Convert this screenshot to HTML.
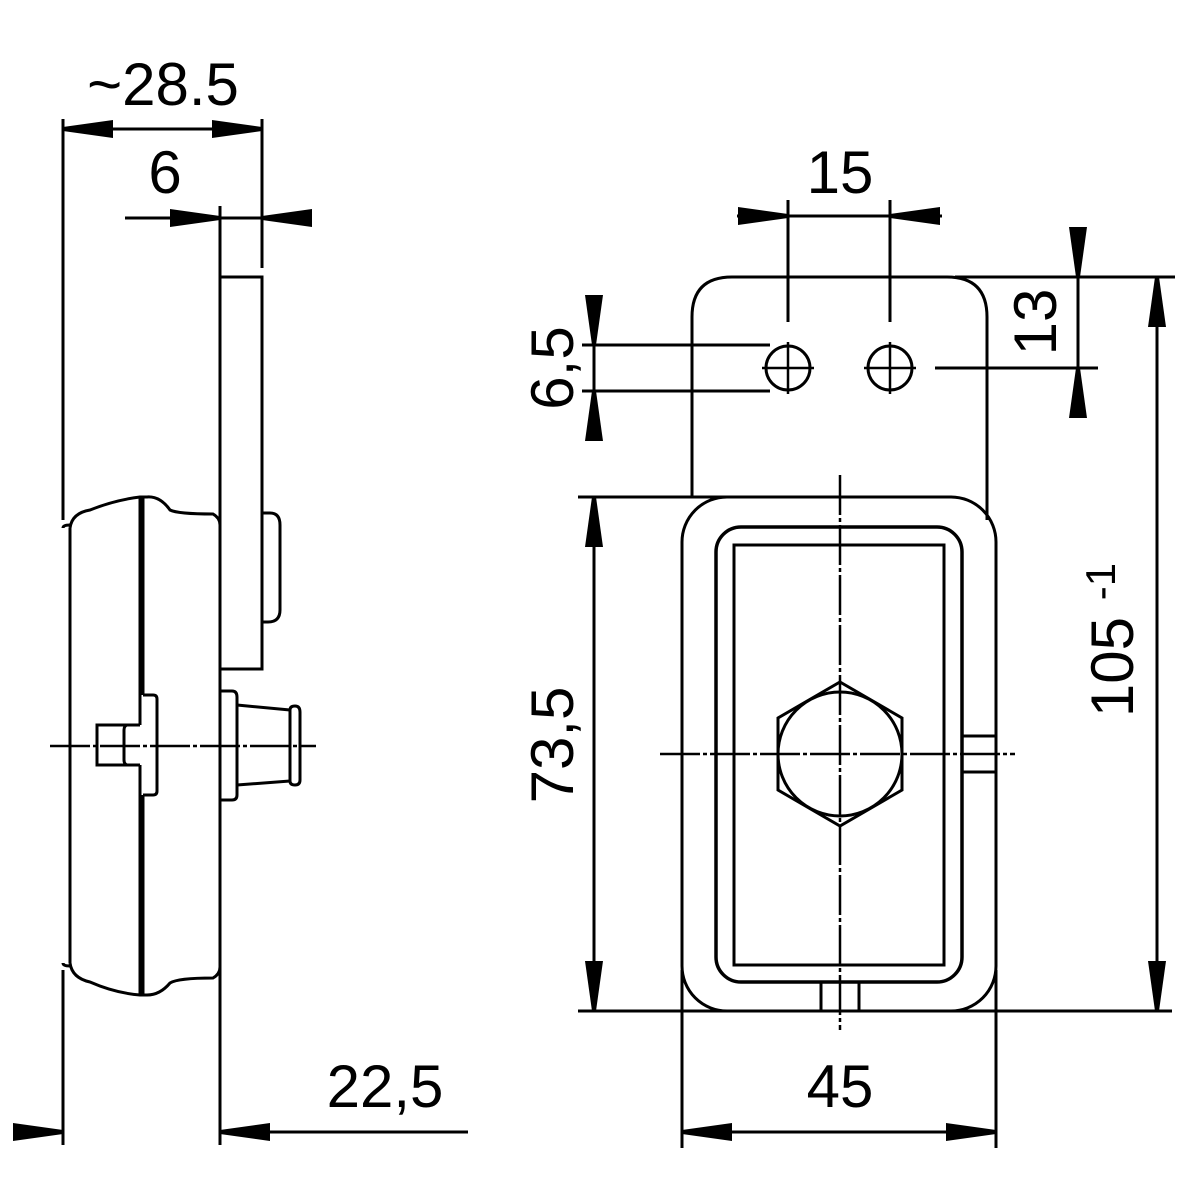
<!DOCTYPE html>
<html><head><meta charset="utf-8"><style>html,body{margin:0;padding:0;background:#fff}svg{display:block}</style></head>
<body>
<svg width="1200" height="1200" viewBox="0 0 1200 1200" xmlns="http://www.w3.org/2000/svg">
<defs>
<marker id="a" viewBox="0 0 50 18" refX="50" refY="9" markerWidth="50" markerHeight="18" markerUnits="userSpaceOnUse" orient="auto"><path d="M0,0 L50,7 L50,11 L0,18Z" fill="#000"/></marker>
</defs>
<g fill="none" stroke="#000" stroke-width="3">
<!-- LEFT VIEW -->
<line x1="63" y1="119" x2="63" y2="520"/>
<line x1="63" y1="970" x2="63" y2="1145"/>
<line x1="220" y1="206" x2="220" y2="1145"/>
<line x1="262" y1="119" x2="262" y2="268"/>
<path d="M70,528 L70,963"/>
<path d="M63,528 Q63,525 70,525"/>
<path d="M63,963 Q63,966 70,966"/>
<path d="M70,528 Q72,513 90,510 Q115,500 140,497 L147,497 Q160,496 170,510 Q178,514 213,514 Q220,518 220,525"/>
<path d="M70,963 Q72,978 90,982 Q115,993 140,995 L147,995 Q160,995 170,983 Q178,978 213,978 Q220,974 220,967"/>
<line x1="140" y1="497" x2="140" y2="725"/>
<line x1="143" y1="497" x2="143" y2="695"/>
<line x1="140" y1="765" x2="140" y2="995"/>
<line x1="143" y1="795" x2="143" y2="995"/>
<path d="M143,695 L153,695 Q157,695 157,699 L157,791 Q157,795 153,795 L143,795"/>
<path d="M140,725 L97,725 L97,765 L140,765"/>
<path d="M127,725 Q124,726 124,730 L124,760 Q124,764 127,765"/>
<path d="M220,277 L262,277 L262,669 L220,669"/>
<path d="M262,513 L270,513 Q280,513 280,525 L280,610 Q280,622 268,622 L262,622"/>
<path d="M220,691 L232,691 Q237,691 237,697 L237,795 Q237,800 232,800 L220,800"/>
<path d="M237,705 L290,710 M237,785 L290,781"/>
<path d="M290,710 Q290,706 295,706 Q300,706 300,712 L300,780 Q300,785 295,785 Q290,785 290,781 Z"/>
<line x1="50" y1="746" x2="316" y2="746" stroke-width="2.5" stroke-dasharray="40,3,4,3"/>
<!-- left dims -->
<line x1="63" y1="129" x2="262" y2="129" marker-end="url(#a)"/>
<line x1="110" y1="129" x2="63" y2="129" marker-end="url(#a)"/>
<line x1="125" y1="218" x2="220" y2="218" marker-end="url(#a)"/>
<line x1="312" y1="218" x2="262" y2="218" marker-end="url(#a)"/>
<line x1="220" y1="218" x2="262" y2="218"/>
<line x1="20" y1="1132" x2="63" y2="1132" marker-end="url(#a)"/>
<line x1="468" y1="1132" x2="220" y2="1132" marker-end="url(#a)"/>

<!-- RIGHT VIEW -->
<path d="M692,497 L692,317 Q692,277 732,277 L947,277 Q987,277 987,317 L987,520"/>
<circle cx="788" cy="368" r="22"/>
<circle cx="890" cy="368" r="22"/>
<path d="M762,368 L814,368 M788,342 L788,394 M864,368 L916,368 M890,342 L890,394" stroke-width="2.5"/>
<rect x="682" y="497" width="314" height="514" rx="45"/>
<rect x="716" y="527" width="246" height="455" rx="25" stroke-width="3.5"/>
<rect x="734" y="545" width="210" height="420"/>
<polygon points="840,682 902,718 902,790 840,826 778,790 778,718"/>
<circle cx="840" cy="754" r="62"/>
<path d="M962,736 L996,736 M962,772 L996,772"/>
<path d="M821,982 L821,1011 M859,982 L859,1011"/>
<line x1="840" y1="475" x2="840" y2="1030" stroke-width="2.5" stroke-dasharray="40,3,4,3"/>
<line x1="660" y1="754" x2="1015" y2="754" stroke-width="2.5" stroke-dasharray="40,3,4,3"/>
<line x1="788" y1="200" x2="788" y2="322"/>
<line x1="890" y1="200" x2="890" y2="322"/>
<line x1="737" y1="216" x2="788" y2="216" marker-end="url(#a)"/>
<line x1="942" y1="216" x2="890" y2="216" marker-end="url(#a)"/>
<line x1="788" y1="216" x2="890" y2="216"/>
<line x1="955" y1="277" x2="1175" y2="277"/>
<line x1="935" y1="368" x2="1098" y2="368"/>
<line x1="1078" y1="227" x2="1078" y2="277" marker-end="url(#a)"/>
<line x1="1078" y1="418" x2="1078" y2="368" marker-end="url(#a)"/>
<line x1="1078" y1="277" x2="1078" y2="368"/>
<line x1="582" y1="345" x2="770" y2="345"/>
<line x1="582" y1="391" x2="770" y2="391"/>
<line x1="594" y1="295" x2="594" y2="345" marker-end="url(#a)"/>
<line x1="594" y1="441" x2="594" y2="391" marker-end="url(#a)"/>
<line x1="594" y1="345" x2="594" y2="391"/>
<line x1="578" y1="497" x2="835" y2="497"/>
<line x1="578" y1="1011" x2="1030" y2="1011"/>
<line x1="594" y1="600" x2="594" y2="497" marker-end="url(#a)"/>
<line x1="594" y1="900" x2="594" y2="1011" marker-end="url(#a)"/>
<line x1="594" y1="590" x2="594" y2="910"/>
<line x1="958" y1="1011" x2="1172" y2="1011"/>
<line x1="1157" y1="600" x2="1157" y2="277" marker-end="url(#a)"/>
<line x1="1157" y1="900" x2="1157" y2="1011" marker-end="url(#a)"/>
<line x1="1157" y1="590" x2="1157" y2="910"/>
<line x1="682" y1="970" x2="682" y2="1148"/>
<line x1="996" y1="970" x2="996" y2="1148"/>
<line x1="780" y1="1132" x2="682" y2="1132" marker-end="url(#a)"/>
<line x1="900" y1="1132" x2="996" y2="1132" marker-end="url(#a)"/>
<line x1="770" y1="1132" x2="910" y2="1132"/>
</g>
<g font-family="Liberation Sans, Arial, sans-serif" font-size="60" fill="#000">
<text x="163" y="105" text-anchor="middle">~28.5</text>
<text x="165" y="193" text-anchor="middle">6</text>
<text x="385" y="1107" text-anchor="middle">22,5</text>
<text x="840" y="193" text-anchor="middle">15</text>
<text x="840" y="1107" text-anchor="middle">45</text>
<text transform="translate(1056,322) rotate(-90)" text-anchor="middle">13</text>
<text transform="translate(573,368) rotate(-90)" text-anchor="middle">6,5</text>
<text transform="translate(573,745) rotate(-90)" text-anchor="middle">73,5</text>
<text transform="translate(1133,640) rotate(-90)" text-anchor="middle">105 <tspan font-size="42" dy="-18">-1</tspan></text>
</g>
</svg>
</body></html>
